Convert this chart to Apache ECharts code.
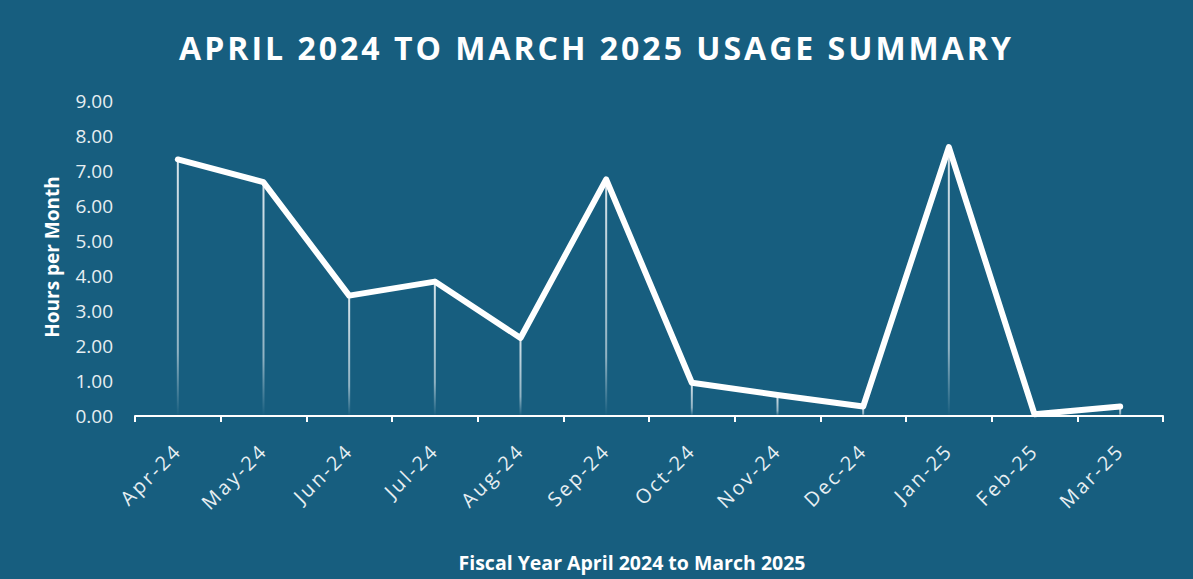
<!DOCTYPE html>
<html>
<head>
<meta charset="utf-8">
<script src="https://cdn.jsdelivr.net/npm/echarts@6/dist/echarts.min.js"></script>
<style>
html,body{margin:0;padding:0;background:#175e7f;}
#chart{width:1193px;height:579px;}
#chart text[style*="32px"]{letter-spacing:3px;}
#chart text[style*="19.9px"]{letter-spacing:2.5px;}
</style>
</head>
<body>
<div id="chart"></div>
<script>
const months = ['Apr-24','May-24','Jun-24','Jul-24','Aug-24','Sep-24','Oct-24','Nov-24','Dec-24','Jan-25','Feb-25','Mar-25'];
const hours = [7.33, 6.68, 3.44, 3.84, 2.23, 6.76, 0.95, 0.60, 0.27, 7.68, 0.05, 0.27];
const yTicks = [0, 1, 2, 3, 4, 5, 6, 7, 8, 9];
const titleText = 'APRIL 2024 TO MARCH 2025 USAGE SUMMARY';
const xName = 'Fiscal Year April 2024 to March 2025';
const yName = 'Hours per Month';

const chart = echarts.init(document.getElementById('chart'), null, {renderer: 'svg'});
const labelColor = '#e6eef2';
chart.setOption({
  backgroundColor: '#175e7f',
  animation: false,
  title: {
    text: titleText,
    left: 'center',
    top: 26,
    textStyle: {color: '#ffffff', fontSize: 32, fontWeight: 'bold', fontFamily: 'Open Sans'}
  },
  graphic: [
    {type: 'text', x: 632, y: 562, style: {text: xName, fill: '#ffffff', font: 'bold 19.5px "Open Sans"', textAlign: 'center', textVerticalAlign: 'middle'}},
    {type: 'text', rotation: Math.PI/2, x: 52, y: 257, style: {text: yName, fill: '#ffffff', font: 'bold 19px "Open Sans"', textAlign: 'center', textVerticalAlign: 'middle'}}
  ],
  grid: {left: 135, right: 30, top: 101, bottom: 163, containLabel: false},
  xAxis: {
    type: 'category',
    data: months,
    boundaryGap: true,
    axisLine: {lineStyle: {color: '#ffffff', width: 2}},
    axisTick: {show: true, alignWithLabel: false, length: 6, lineStyle: {color: '#ffffff', width: 2}},
    axisLabel: {rotate: 45, color: labelColor, fontSize: 19.9, fontFamily: 'Open Sans', margin: 31, interval: 0}
  },
  yAxis: {
    type: 'value',
    min: yTicks[0],
    max: yTicks[yTicks.length-1],
    interval: 1,
    axisLine: {show: false},
    axisTick: {show: false},
    splitLine: {show: false},
    axisLabel: {color: labelColor, fontSize: 19, fontFamily: 'Open Sans', margin: 22, formatter: v => v.toFixed(2)}
  },
  series: [
    {
      type: 'bar',
      data: hours,
      barWidth: 2,
      silent: true,
      itemStyle: {
        color: new echarts.graphic.LinearGradient(0, 0, 0, 1, [
          {offset: 0, color: 'rgba(225,235,240,0.95)'},
          {offset: 0.75, color: 'rgba(225,235,240,0.6)'},
          {offset: 1, color: 'rgba(225,235,240,0)'}
        ])
      }
    },
    {
      type: 'line',
      data: hours,
      symbol: 'none',
      lineStyle: {color: '#ffffff', width: 6, cap: 'round', join: 'round'},
      z: 5
    }
  ]
});
</script>
</body>
</html>
